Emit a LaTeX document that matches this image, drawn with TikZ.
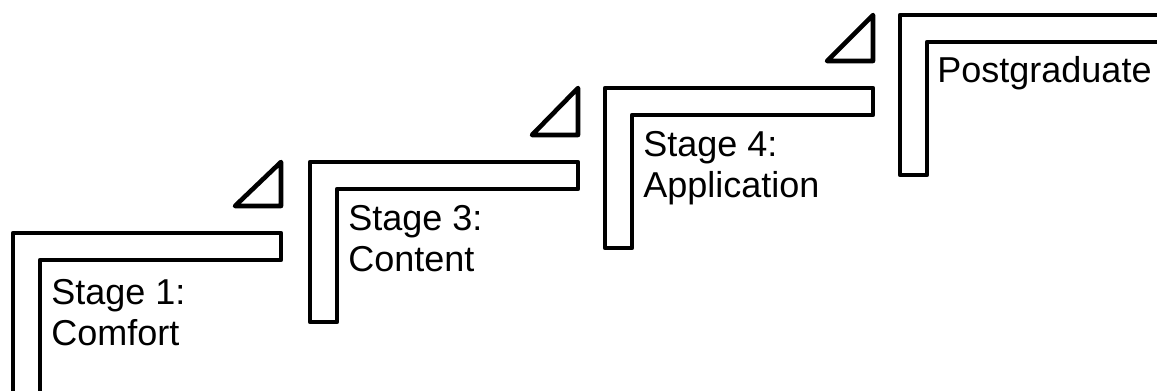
\documentclass[tikz,border=0pt]{standalone}
\usepackage{fontspec}
\setmainfont{Liberation Sans}
\usetikzlibrary{positioning}

\tikzset{
  stair/.style={draw=black, line width=2.3pt, line join=round, fill=white},
  wedge/.style={draw=black, line width=2.3pt, line join=round},
  stagelabel/.style={anchor=base west, inner sep=0pt, align=left,
    font=\fontsize{18pt}{20.5pt}\selectfont},
}

\begin{document}
\begin{tikzpicture}[x=0.5pt, y=-0.5pt]
  \useasboundingbox (0,0) rectangle (1157,391);
  \clip (0,0) rectangle (1157,391);

  % L-shaped steps, lower left to upper right
  \foreach \l/\t in {13/233, 310/162, 605/88, 900/15} {
    \draw[stair] (\l,\t) -- ++(268,0) -- ++(0,27) -- ++(-241,0)
      -- ++(0,133) -- ++(-27,0) -- cycle;
  }

  % little wedges sitting on each tread
  \foreach \l/\t/\n in {13/233/162, 310/162/88, 605/88/15} {
    \draw[wedge] (\l+222,\t-27) -- (\l+268,\t-27) -- (\l+268,\n) -- cycle;
  }

  % labels (base anchor sits on the last line)
  \node[stagelabel] (comfort) at (51,345) {Stage 1:\\Comfort};
  \node[stagelabel] (content) at (348,271) {Stage 3:\\Content};
  \node[stagelabel] (application) at (643,197) {Stage 4:\\Application};
  \node[stagelabel] (postgrad) at (937,83) {Postgraduate};
\end{tikzpicture}
\end{document}
